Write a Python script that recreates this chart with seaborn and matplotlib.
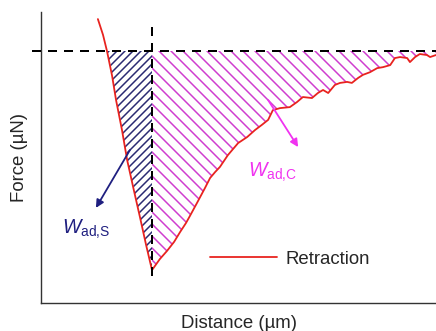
import numpy as np
import matplotlib
matplotlib.use("Agg")
import matplotlib.pyplot as plt
import seaborn as sns

# ---- data (distance in µm, force in µN) ----
dist_left = [1.44, 1.57, 1.67, 1.80, 1.90, 2.05, 2.18, 2.35, 2.51, 2.66, 2.81]
force_left = [0.95, 0.48, 0.00, -0.74, -1.46, -2.35, -3.24, -4.14, -4.97, -5.77, -6.52]

dist_right = [3.01, 3.19, 3.37, 3.52, 3.67, 3.77, 3.95, 4.15, 4.28, 4.41, 4.53, 4.73,
              4.99, 5.22, 5.42, 5.59, 5.75, 5.87, 6.05, 6.30, 6.48, 6.63, 6.86, 7.01,
              7.14, 7.27, 7.44, 7.57, 7.75, 7.87, 8.03, 8.15, 8.33, 8.51, 8.66, 8.84,
              8.96, 9.09, 9.27, 9.34, 9.47, 9.59, 9.77, 9.85, 10.00]
force_right = [-6.19, -5.95, -5.68, -5.39, -5.12, -4.91, -4.52, -4.08, -3.78, -3.60, -3.45, -3.10,
               -2.74, -2.56, -2.35, -2.20, -2.05, -1.76, -1.70, -1.67, -1.52, -1.37, -1.40, -1.25,
               -1.16, -1.25, -1.01, -0.95, -0.92, -0.95, -0.80, -0.71, -0.63, -0.51, -0.48, -0.42,
               -0.21, -0.18, -0.21, -0.33, -0.18, -0.09, -0.12, -0.18, -0.12]

baseline_force = 0.0          # horizontal dashed line (zero force)
contact_dist = 2.81           # vertical dashed line (snap-off point)
series_label = "Retraction"
x_label = "Distance (µm)"
y_label = "Force (µN)"
label_S = r"$W_{\mathrm{ad{,}S}}$"
label_C = r"$W_{\mathrm{ad{,}C}}$"

# ---- style ----
DPI = 144
sns.set_style("white")
plt.rcParams["font.family"] = ["Liberation Sans", "DejaVu Sans"]
plt.rcParams["mathtext.fontset"] = "custom"
plt.rcParams["mathtext.rm"] = "Liberation Sans"
plt.rcParams["mathtext.it"] = "Liberation Sans:italic"
plt.rcParams["mathtext.bf"] = "Liberation Sans:bold"
plt.rcParams["hatch.linewidth"] = 0.75

RED = "#e8231f"
NAVY = "#1f1f80"
NAVY_HATCH = "#2a2a72"
MAG = "#f033f0"
MAG_HATCH = "#cf3ccf"

fig = plt.figure(figsize=(436.01 / DPI, 331.01 / DPI), dpi=DPI)
ax = fig.add_axes([41 / 436, 28 / 331, 395 / 436, 291 / 331])

dist = dist_left + dist_right
force = force_left + force_right

# hatched regions
xl = np.array(dist_left)
yl = np.array(force_left)
m = yl <= baseline_force
ax.fill_betweenx(yl[m], xl[m], contact_dist, facecolor="none", edgecolor=NAVY_HATCH,
                 hatch="//////", linewidth=0, zorder=1)
xr = np.array([dist_left[-1]] + dist_right)
yr = np.array([force_left[-1]] + force_right)
ax.fill_between(xr, yr, baseline_force, facecolor="none", edgecolor=MAG_HATCH,
                hatch="\\\\\\\\", linewidth=0, zorder=1)

# retraction curve
sns.lineplot(x=dist, y=force, estimator=None, sort=False, color=RED, linewidth=0.9,
             label=series_label, ax=ax, zorder=3)

# dashed reference lines
ax.plot([-0.23, 10.0], [baseline_force, baseline_force], color="black", linewidth=1.0,
        dashes=(4.5, 3.5), clip_on=False, zorder=4)
ax.plot([contact_dist, contact_dist], [0.71, -6.82], color="black", linewidth=1.0,
        dashes=(4.5, 3.5), clip_on=False, zorder=4)

# arrows and annotations
ax.annotate("", xy=(1.39, -4.67), xytext=(2.25, -2.95),
            arrowprops=dict(arrowstyle="-|>", color=NAVY, lw=0.9, mutation_scale=8,
                            shrinkA=0, shrinkB=0), zorder=5)
ax.annotate("", xy=(6.51, -2.86), xytext=(5.75, -1.46),
            arrowprops=dict(arrowstyle="-|>", color=MAG, lw=0.9, mutation_scale=8,
                            shrinkA=0, shrinkB=0), zorder=5)
ax.text(0.53, -5.45, label_S, color=NAVY, fontsize=9.8, ha="left", va="baseline")
ax.text(5.24, -3.75, label_C, color=MAG, fontsize=9.8, ha="left", va="baseline")

ax.set_xlim(0, 10)
ax.set_ylim(-7.5, 1.161)
ax.set_xticks([])
ax.set_yticks([])
for s in ["top", "right"]:
    ax.spines[s].set_visible(False)
for s in ["left", "bottom"]:
    ax.spines[s].set_color("#333333")
    ax.spines[s].set_linewidth(0.7)

ax.set_xlabel(x_label, fontsize=9.3, labelpad=6)
ax.set_ylabel(y_label, fontsize=9.3, labelpad=6.5)

ax.legend(loc="center left", bbox_to_anchor=((210 - 41) / 395, (303 - 259) / 291),
          frameon=False, fontsize=9.3, handlelength=3.6, handletextpad=0.45,
          borderpad=0, borderaxespad=0)

fig.savefig("out.png", dpi=DPI)
